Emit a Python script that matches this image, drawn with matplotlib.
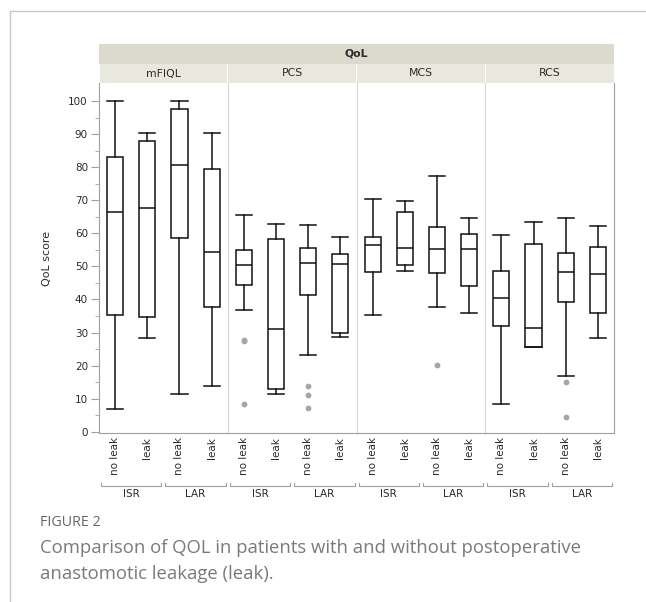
import matplotlib
matplotlib.use("Agg")
import matplotlib.pyplot as plt
from matplotlib.patches import Rectangle
from matplotlib.lines import Line2D

# ---------------- data ----------------
panels = ["mFIQL", "PCS", "MCS", "RCS"]
groups = ["ISR", "LAR"]
leak_labels = ["no leak", "leak"]

mfiql_whislo = [6.9, 28.4, 11.4, 13.8]
mfiql_q1 = [35.3, 34.7, 58.7, 37.7]
mfiql_med = [66.6, 67.8, 80.8, 54.5]
mfiql_q3 = [83.2, 88.1, 97.7, 79.6]
mfiql_whishi = [100.0, 90.5, 100.0, 90.5]
mfiql_fliers = [[], [], [], []]

pcs_whislo = [36.8, 11.4, 23.2, 28.7]
pcs_q1 = [44.4, 12.9, 41.4, 30.0]
pcs_med = [50.3, 31.1, 50.9, 50.6]
pcs_q3 = [55.0, 58.4, 55.7, 53.9]
pcs_whishi = [65.7, 62.9, 62.4, 59.0]
pcs_fliers = [[27.3, 27.8, 8.4], [], [13.8, 11.2, 7.1], []]

mcs_whislo = [35.3, 48.7, 37.7, 36.0]
mcs_q1 = [48.4, 50.4, 48.1, 44.1]
mcs_med = [56.4, 55.7, 55.4, 55.4]
mcs_q3 = [59.0, 66.5, 61.8, 59.9]
mcs_whishi = [70.3, 69.9, 77.5, 64.8]
mcs_fliers = [[], [], [20.3], []]

rcs_whislo = [8.4, 25.5, 16.9, 28.2]
rcs_q1 = [32.0, 25.5, 39.1, 36.0]
rcs_med = [40.3, 31.4, 48.4, 47.6]
rcs_q3 = [48.6, 56.9, 54.2, 56.0]
rcs_whishi = [59.5, 63.5, 64.8, 62.3]
rcs_fliers = [[], [], [15.1, 4.4], []]

y_ticks = [0, 10, 20, 30, 40, 50, 60, 70, 80, 90, 100]

panel_data = [
    (mfiql_whislo, mfiql_q1, mfiql_med, mfiql_q3, mfiql_whishi, mfiql_fliers),
    (pcs_whislo, pcs_q1, pcs_med, pcs_q3, pcs_whishi, pcs_fliers),
    (mcs_whislo, mcs_q1, mcs_med, mcs_q3, mcs_whishi, mcs_fliers),
    (rcs_whislo, rcs_q1, rcs_med, rcs_q3, rcs_whishi, rcs_fliers),
]

# ---------------- layout ----------------
W, H = 646, 602
fig = plt.figure(figsize=(W / 100, H / 100), dpi=100)
plt.rcParams['font.family'] = ['DejaVu Sans']

def fx(px):
    return px / W

def fy(py):
    return 1 - py / H

plot_left, plot_right = 99, 614
plot_top, plot_bottom = 83, 433
pw = (plot_right - plot_left) / 4

spine_gray = "#a0a0a0"
sep_gray = "#d4d4d4"
text_col = "#2a2a2a"

axes = []
for i, name in enumerate(panels):
    lpx = plot_left + i * pw
    ax = fig.add_axes([fx(lpx), fy(plot_bottom), fx(pw), (plot_bottom - plot_top) / H])
    axes.append(ax)
    wl, q1, md, q3, wh, fl = panel_data[i]
    stats = []
    for j in range(4):
        stats.append(dict(whislo=wl[j], q1=q1[j], med=md[j], q3=q3[j],
                          whishi=wh[j], fliers=fl[j]))
    ax.bxp(stats, positions=[0, 1, 2, 3], widths=0.5, showfliers=True,
           patch_artist=True, capwidths=0.5,
           boxprops=dict(facecolor="white", edgecolor="#111111", linewidth=1.1),
           medianprops=dict(color="#111111", linewidth=1.1),
           whiskerprops=dict(color="#111111", linewidth=1.1),
           capprops=dict(color="#111111", linewidth=1.1),
           flierprops=dict(marker="o", markerfacecolor="#a6a6a6",
                           markeredgecolor="none", markersize=4.2))
    ax.set_xlim(-0.5, 3.5)
    ax.set_ylim(-0.4, 105.5)
    ax.set_xticks([0, 1, 2, 3])
    ax.set_xticklabels(leak_labels * 2, rotation=90, fontsize=7.5, color=text_col,
                       va="top", ha="center")
    ax.tick_params(axis="x", length=0, pad=3)
    ax.spines["top"].set_visible(False)
    ax.spines["bottom"].set_color(spine_gray)
    if i == 3:
        ax.spines["right"].set_color(spine_gray)
    else:
        ax.spines["right"].set_visible(False)
    if i == 0:
        ax.spines["left"].set_color(spine_gray)
        ax.set_yticks(y_ticks)
        ax.set_yticks(list(range(5, 100, 10)), minor=True)
        ax.tick_params(axis="y", which="major", length=6, color=spine_gray,
                       labelsize=7.5, labelcolor=text_col, pad=2)
        ax.tick_params(axis="y", which="minor", length=3, color=spine_gray)
        ax.set_ylabel("QoL score", fontsize=8, color=text_col, labelpad=12)
    else:
        ax.spines["left"].set_color(sep_gray)
        ax.set_yticks([])

    # bracket + group labels
    for h, g in enumerate(groups):
        x0 = lpx + h * pw / 2 + 2
        x1 = lpx + (h + 1) * pw / 2 - 2
        yb = 486
        fig.add_artist(Line2D([fx(x0), fx(x0), fx(x1), fx(x1)],
                              [fy(yb - 3), fy(yb), fy(yb), fy(yb - 3)],
                              color=spine_gray, linewidth=0.8))
        fig.text(fx((x0 + x1) / 2), fy(494), g, ha="center", va="center",
                 fontsize=7.5, color=text_col)

    # sub header
    fig.add_artist(Rectangle((fx(lpx + 0.5), fy(83)), fx(pw - 1), (83 - 64) / H,
                             facecolor="#e9e8df", edgecolor="none"))
    fig.text(fx(lpx + pw / 2), fy(73.5), name, ha="center", va="center",
             fontsize=7.8, color=text_col)

# top header
fig.add_artist(Rectangle((fx(plot_left), fy(64)), fx(plot_right - plot_left), 20 / H,
                         facecolor="#dcdacc", edgecolor="none"))
fig.text(fx((plot_left + plot_right) / 2), fy(54), "QoL", ha="center", va="center",
         fontsize=7.8, fontweight="bold", color=text_col)

# figure frame lines
fig.add_artist(Line2D([fx(10), fx(646)], [fy(11), fy(11)], color="#c8c8c8", linewidth=1))
fig.add_artist(Line2D([fx(10), fx(10)], [fy(11), fy(602)], color="#c8c8c8", linewidth=1))

# caption
fig.text(fx(40), fy(522), "FIGURE 2", ha="left", va="center", fontsize=10.3,
         color="#666666", family=["Open Sans", "DejaVu Sans"])
fig.text(fx(40), fy(548), "Comparison of QOL in patients with and without postoperative",
         ha="left", va="center", fontsize=13.3, color="#7a7a7a",
         family=["Open Sans", "DejaVu Sans"])
fig.text(fx(40), fy(574), "anastomotic leakage (leak).",
         ha="left", va="center", fontsize=13.3, color="#7a7a7a",
         family=["Open Sans", "DejaVu Sans"])

fig.savefig("out.png", dpi=100)
